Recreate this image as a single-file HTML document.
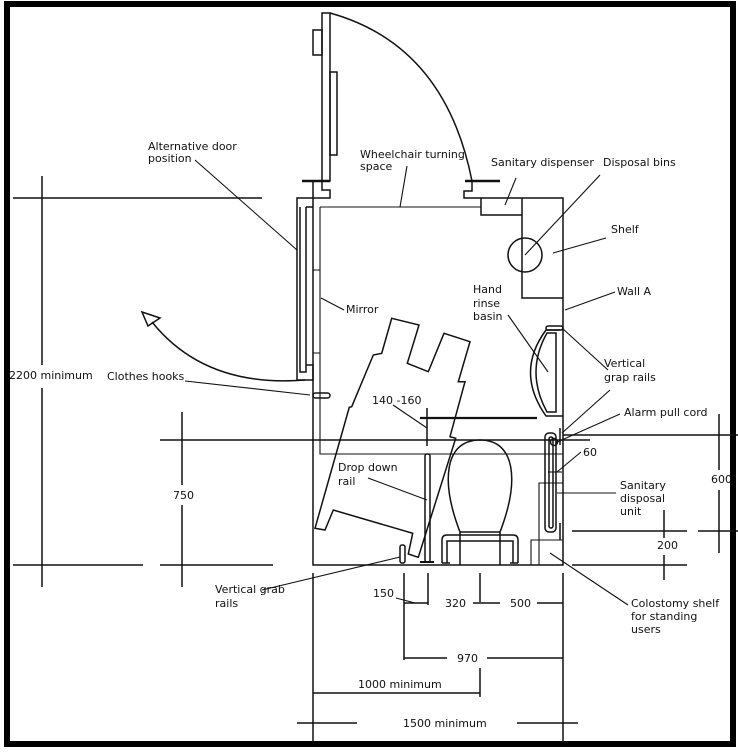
<!DOCTYPE html>
<html><head><meta charset="utf-8"><style>
html,body{margin:0;padding:0;background:#fff}
svg{display:block}
text{font-family:"DejaVu Sans","Liberation Sans",sans-serif;font-size:11px;fill:#111}
</style></head><body>
<svg width="738" height="755" viewBox="0 0 738 755" xmlns="http://www.w3.org/2000/svg">
<rect x="0" y="0" width="738" height="755" fill="#fff"/>
<rect x="7" y="4" width="726" height="740" fill="none" stroke="#000" stroke-width="6"/>
<g fill="none" stroke="#111" stroke-width="1.5">
<rect x="322" y="13" width="8" height="168"/>
<rect x="313" y="30" width="9" height="25"/>
<rect x="330" y="72" width="7" height="83"/>
<path d="M330,13 Q445,45 472,181"/>
<path d="M302,181 H330" stroke-width="2.4"/>
<path d="M465,181 H500" stroke-width="2.4"/>
<path d="M322,181 V190 H330 V198 H297 V380"/>
<path d="M472,181 V191 H464 V198 H563 V565 H313 V181"/>
<path d="M306,207 H313 M300,207 V372 H306 V207 M306,365 H313 V380 H297"/>
<path d="M320,207 H481 M320,207 V454 H563" stroke-width="1.1"/>
<path d="M313,270 H320 M313,353 H320" stroke-width="1.1"/>
<path d="M481,198 V215 H522 M522,198 V298 H563"/>
<circle cx="525" cy="255" r="17"/>
<path d="M556,333 V412 H547 Q525,372 547,333 Z"/>
<path d="M560,330 L546,330 Q515,372 546,416 L563,416"/>
<rect x="546" y="326" width="17" height="4" rx="2"/>
<rect x="545" y="433" width="11" height="99" rx="4"/>
<rect x="549" y="437" width="4" height="91" rx="2"/>
<circle cx="554" cy="442" r="3.5"/>
<path d="M560,428 V445 M560,523 V540"/>
<path d="M539,565 V483 H563 M531,565 V540 H563" stroke-width="1.1"/>
<path d="M548,472 H562" stroke-width="1.1"/>
<path d="M460,532 C440,480 445,440 480,440 C515,440 520,480 500,532 Z"/>
<path d="M442,563 V540 Q442,535 447,535 H513 Q518,535 518,540 V563 M447,563 V541 H513 V563"/>
<path d="M460,532 V565 M500,532 V565"/>
<path d="M442,563 H450 M510,563 H518"/>
<rect x="425" y="454" width="5" height="108" rx="2"/>
<rect x="400" y="545" width="5" height="18" rx="2"/>
<path d="M420,562 H434" stroke-width="2"/>
<path d="M391.7,318.3 L419,325 L407.3,363.3 L428.3,371.7 L444,333.3 L470,341.7 L458.3,381.7 L465,381.7 L450,436.7 L455.7,438.3 L418.3,557.3 L408.3,554 L412.7,533.3 L333.3,510 L325,530 L315,528.3 L349.3,407.3 L351.7,406.7 L373.3,355 L381.7,353.3 Z"/>
<rect x="313" y="393" width="17" height="5" rx="2.5"/>
<path d="M305,380 Q205,388 152,322"/>
<path d="M142,312 L160,318 L148,326 Z"/>
<path d="M13,198 H262 M42,176 V365 M42,388 V587"/>
<path d="M13,565 H143 M160,565 H273 M160,440 H590 M182,412 V485 M182,505 V587"/>
<path d="M563,435 H738 M719,414 V470 M719,490 V553 M572,531 H687 M698,531 H738 M572,565 H687 M664,510 V538 M664,555 V580"/>
<path d="M420,418 H537" stroke-width="2.2"/>
<path d="M427,408 V446"/>
<path d="M313,573 V742 M563,573 V742 M404,573 V660 M428,573 V605 M480,573 V602 M480,668 V697"/>
<path d="M404,603 H428 M473,603 H500 M537,603 H563 M404,658 H447 M487,658 H563 M313,693 H480 M297,723 H357 M517,723 H578"/>
<path d="M195,160 L297,250 M407,166 L400,207 M516,178 L505,205 M600,175 L525,255 M606,238 L553,253 M615,292 L565,310 M508,315 L548,372 M344,310 L321,298 M608,370 L562,328 M610,390 L562,433 M620,414 L555,443 M581,452 L557,472 M616,493 L557,493 M185,381 L310,395 M368,478 L427,500 M393,405 L427,428 M262,590 L400,557 M628,605 L550,553 M396,598 L415,603" stroke-width="1.1"/>
</g>
<text x="148" y="150">Alternative door</text>
<text x="148" y="162">position</text>
<text x="360" y="158">Wheelchair turning</text>
<text x="360" y="170">space</text>
<text x="491" y="166">Sanitary dispenser</text>
<text x="603" y="166">Disposal bins</text>
<text x="611" y="233">Shelf</text>
<text x="617" y="295">Wall A</text>
<text x="473" y="293">Hand</text>
<text x="473" y="307">rinse</text>
<text x="473" y="320">basin</text>
<text x="346" y="313">Mirror</text>
<text x="604" y="367">Vertical</text>
<text x="604" y="381">grap rails</text>
<text x="107" y="380">Clothes hooks</text>
<text x="9" y="379">2200 minimum</text>
<text x="372" y="404">140 -160</text>
<text x="624" y="416">Alarm pull cord</text>
<text x="583" y="456">60</text>
<text x="338" y="471">Drop down</text>
<text x="338" y="485">rail</text>
<text x="620" y="489">Sanitary</text>
<text x="620" y="502">disposal</text>
<text x="620" y="515">unit</text>
<text x="173" y="499">750</text>
<text x="711" y="483">600</text>
<text x="657" y="549">200</text>
<text x="215" y="593">Vertical grab</text>
<text x="215" y="607">rails</text>
<text x="373" y="597">150</text>
<text x="445" y="607">320</text>
<text x="510" y="607">500</text>
<text x="631" y="607">Colostomy shelf</text>
<text x="631" y="620">for standing</text>
<text x="631" y="633">users</text>
<text x="457" y="662">970</text>
<text x="358" y="688">1000 minimum</text>
<text x="403" y="727">1500 minimum</text>
</svg>
</body></html>
